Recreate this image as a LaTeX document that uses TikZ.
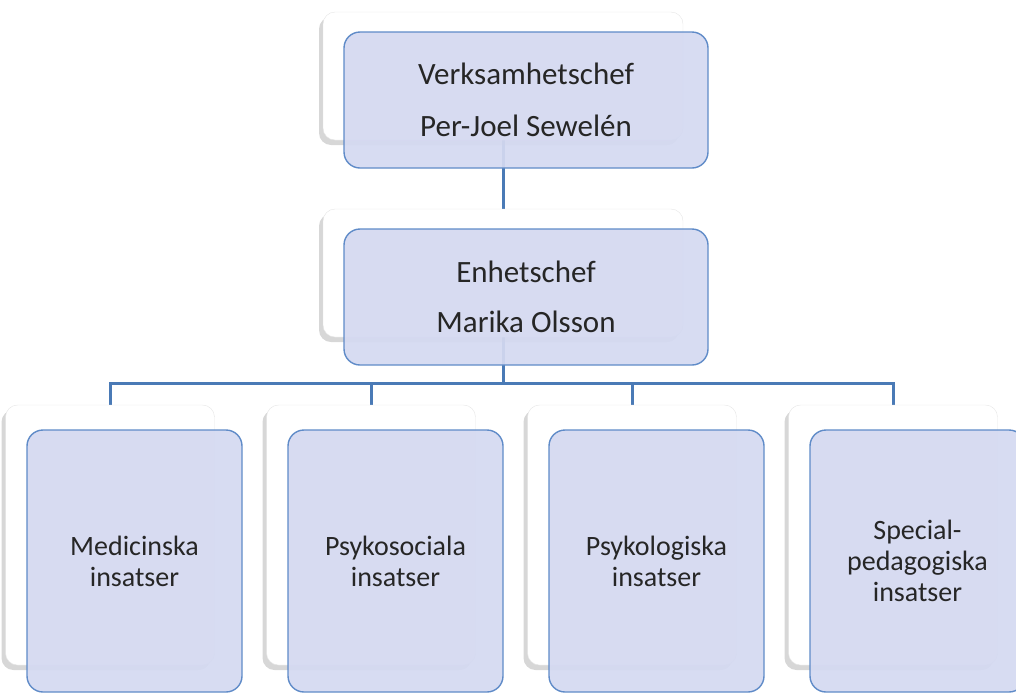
\documentclass[tikz,border=0pt]{standalone}
\usepackage{fontspec}
\setmainfont{Carlito}
\usetikzlibrary{shadows,backgrounds}

\definecolor{boxfill}{HTML}{D4D9F1}
\definecolor{boxline}{HTML}{5F8BC8}
\definecolor{linkline}{HTML}{4A7AB6}
\definecolor{textgrey}{HTML}{262626}

\begin{document}
\begin{tikzpicture}[x=1pt, y=-1pt,
    back/.style={draw=black!10, fill=white, rounded corners=12pt,
        drop shadow={shadow xshift=-4pt, shadow yshift=-5pt, opacity=0.35, fill=black!45}},
    card/.style={draw=boxline, line width=1.4pt, fill=boxfill, fill opacity=0.93,
        text opacity=1, rounded corners=16pt, text=textgrey, align=center},
    link/.style={draw=linkline, line width=3pt}
]
\useasboundingbox (0,0) rectangle (1016,694);
\clip (0,0) rectangle (1016,694);

% Back cards
\node[back, minimum width=360pt, minimum height=128pt] (chefback) at (503,76) {};
\node[back, minimum width=360pt, minimum height=128pt] (unitback) at (503,273) {};
\foreach \i in {1,...,4}
    \node[back, minimum width=209pt, minimum height=260pt] (back\i) at (110+261*\i-261,535) {};

% Front cards
\node[card, minimum width=364pt, minimum height=136pt, font=\fontsize{31}{52}\selectfont]
    (chef) at (526,100) {Verksamhetschef\\Per-Joel Sewelén};
\node[card, minimum width=364pt, minimum height=136pt, font=\fontsize{31}{50}\selectfont]
    (unit) at (526,297) {Enhetschef\\Marika Olsson};

\foreach \i/\txt in {1/{Medicinska\\insatser}, 2/{Psykosociala\\insatser},
                     3/{Psykologiska\\insatser}, 4/{Special-\\pedagogiska\\insatser}}
    \node[card, minimum width=215pt, minimum height=262pt, font=\fontsize{28}{31}\selectfont]
        (team\i) at (134.5+261*\i-261,561) {\txt};

% Connectors
\begin{pgfonlayer}{background}
\draw[link] (chefback.south) -- (unitback.north);
\foreach \i in {1,...,4}
    \draw[link] (unitback.south) -- ++(0,46) -| (back\i.north);
\end{pgfonlayer}

\end{tikzpicture}
\end{document}
